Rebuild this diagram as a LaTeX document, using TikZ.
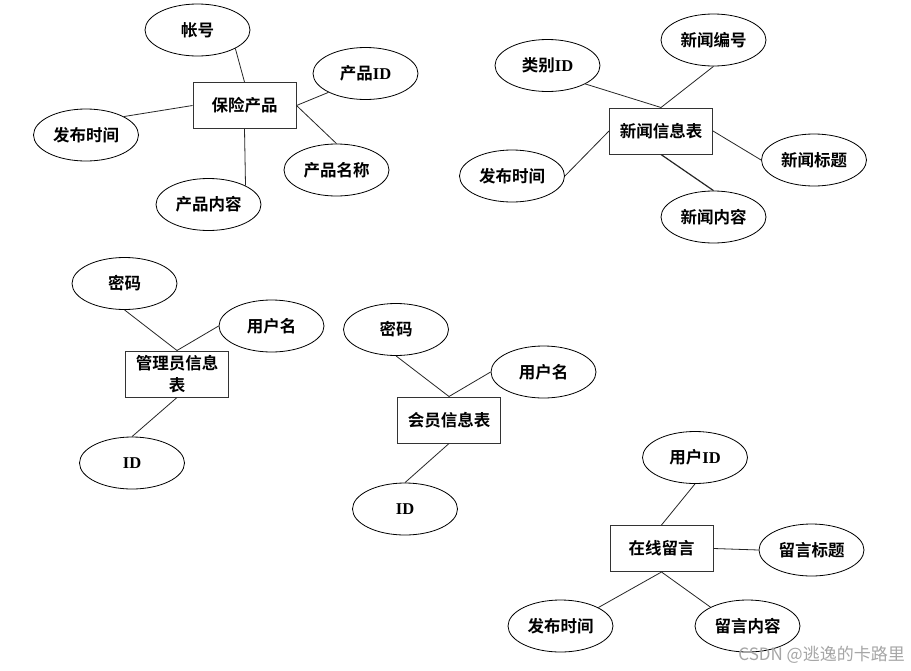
\documentclass[tikz,border=0pt]{standalone}
\usepackage{fontspec}
\setmainfont{Liberation Serif}
\newfontfamily\cjk{Noto Sans CJK SC}[BoldFont={Noto Sans CJK SC Bold}]
\newfontfamily\lat{Liberation Serif}
\newcommand\myid{{\lat\bfseries ID}}
\usetikzlibrary{shapes.geometric}
\tikzset{
  attr/.style={ellipse, draw=black, line width=0.8pt, minimum width=105pt, minimum height=52pt, inner sep=0pt,
    font=\cjk\bfseries\fontsize{16.5}{20}\selectfont},
  ent/.style={rectangle, draw=black!80, line width=1pt, minimum width=103pt, minimum height=46pt, inner sep=0pt,
    align=center, font=\cjk\bfseries\fontsize{16.5}{22.5}\selectfont},
  conn/.style={draw=black!85, line width=0.8pt},
  wmark/.style={font=\cjk\fontsize{17}{20}\selectfont, text=black!35, inner sep=0pt}
}
\begin{document}
\begin{tikzpicture}[x=1pt,y=-1pt]
\useasboundingbox[fill=white] (0,0) rectangle (911,670);

% ---- 保险产品
\node[ent] (bx) at (244.5,105.5) {保险产品};
\node[attr] (zh) at (197.5,30) {帐号};
\node[attr] (pid) at (365.5,73.5) {产品\myid};
\node[attr] (pmc) at (336.5,170) {产品名称};
\node[attr] (fb1) at (86,135) {发布时间};
\node[attr] (pnr) at (208.5,204.5) {产品内容};
\draw[conn] (zh.-26) -- (bx.north);
\draw[conn] (pid.207) -- (bx.east);
\draw[conn] (pmc.north) -- (bx.east);
\draw[conn] (fb1.26) -- (bx.west);
\draw[conn] (pnr.27) -- (bx.south);

% ---- 新闻信息表
\node[ent] (nb) at (661,131) {新闻信息表};
\node[attr] (lb) at (547.5,65.5) {类别\myid};
\node[attr] (nbh) at (713.5,40) {新闻编号};
\node[attr] (nt) at (814,160) {新闻标题};
\node[attr] (nnr) at (713.5,217) {新闻内容};
\node[attr] (fb2) at (512,176) {发布时间};
\draw[conn] (lb.-26) -- (nb.north);
\draw[conn] (nbh.south) -- (nb.north);
\draw[conn] (nt.west) -- (nb.east);
\draw[conn, line width=1.2pt] (nnr.north) -- (nb.south);
\draw[conn] (fb2.east) -- (nb.west);

% ---- 管理员信息表
\node[ent] (gb) at (177,374) {管理员信息\\表};
\node[attr] (mm1) at (124.5,283.5) {密码};
\node[attr] (yh1) at (271.5,326) {用户名};
\node[attr] (id1) at (132,463) {\myid};
\draw[conn] (mm1.south) -- (gb.north);
\draw[conn] (yh1.west) -- (gb.north);
\draw[conn] (id1.north) -- (gb.south);

% ---- 会员信息表
\node[ent] (hb) at (449,420) {会员信息表};
\node[attr] (mm2) at (396,329.5) {密码};
\node[attr] (yh2) at (543.5,372) {用户名};
\node[attr] (id2) at (405,509) {\myid};
\draw[conn] (mm2.south) -- (hb.north);
\draw[conn] (yh2.west) -- (hb.north);
\draw[conn] (id2.north) -- (hb.south);

% ---- 在线留言
\node[ent] (zb) at (661.5,548.5) {在线留言};
\node[attr] (uid) at (695,457.5) {用户\myid};
\node[attr] (lbt) at (811.5,550) {留言标题};
\node[attr] (fb3) at (560.5,626) {发布时间};
\node[attr] (lnr) at (747.5,626) {留言内容};
\draw[conn] (uid.south) -- (zb.north);
\draw[conn] (lbt.west) -- (zb.east);
\draw[conn] (fb3.26) -- (zb.south);
\draw[conn] (lnr.153) -- (zb.south);

% ---- watermark
\node[wmark, anchor=east] (wm) at (905,655) {CSDN @逃逸的卡路里};
\end{tikzpicture}
\end{document}
